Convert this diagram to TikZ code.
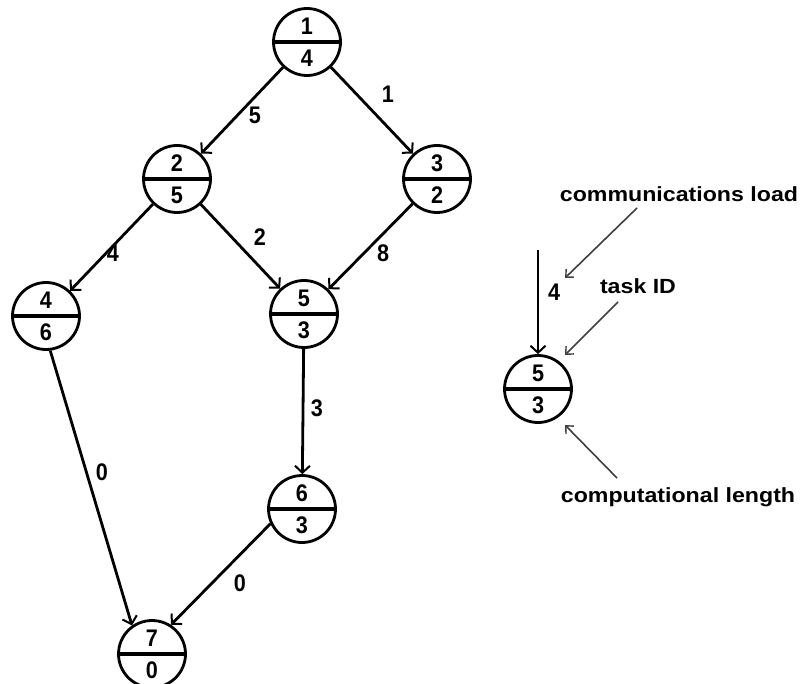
\documentclass[tikz,border=0pt]{standalone}
\usepackage{fontspec}
\usepackage{graphicx}
\setmainfont{Liberation Sans}
\usetikzlibrary{arrows.meta}
\tikzset{
  task/.style={circle, draw, line width=2.8pt, minimum size=67pt, inner sep=0pt},
  divider/.style={line width=3.2pt},
  num/.style={font=\bfseries\fontsize{24}{24}\selectfont, inner sep=0pt},
  edge/.style={line width=2.8pt, -{Straight Barb[length=7pt,width=15pt,line width=2pt]}},
  elabel/.style={font=\bfseries\fontsize{24}{24}\selectfont, inner sep=0pt},
  note/.style={font=\bfseries\fontsize{20.5}{20.5}\selectfont, inner sep=0pt},
  notearrow/.style={line width=1.6pt, draw=black!75, -{Straight Barb[length=6pt,width=11pt,line width=1.4pt]}}
}
\newcommand\tasknode[4]{%
  \node[task] (#1) at (#2) {};
  \draw[divider] (#1.west) -- (#1.east);
  \node[num] (#1top) at ([yshift=16pt]#1.center) {\scalebox{0.9}[1]{#3}};
  \node[num] (#1bot) at ([yshift=-16pt]#1.center) {\scalebox{0.9}[1]{#4}};
}
\begin{document}
\begin{tikzpicture}[x=1pt,y=-1pt]
\path[use as bounding box, fill=white] (0,0) rectangle (802,684);
\tasknode{n1}{307,42}{1}{4}
\tasknode{n2}{177,179}{2}{5}
\tasknode{n3}{437,179}{3}{2}
\tasknode{n4}{46,316}{4}{6}
\tasknode{n5}{304,314}{5}{3}
\tasknode{n6}{302,509}{6}{3}
\tasknode{n7}{152,654}{7}{0}
\tasknode{nl}{538,389}{5}{3}

\draw[edge] (n1) -- (n2);
\draw[edge] (n1) -- (n3);
\draw[edge] (n2) -- (n4);
\draw[edge] (n2) -- (n5);
\draw[edge] (n3) -- (n5);
\draw[edge] (n5) -- (n6);
\draw[edge] (n4.-83) -- (n7.125);
\draw[edge] (n6.-155) -- (n7.57);

\node[elabel] (l12) at (255,115) {\scalebox{0.9}[1]{5}};
\node[elabel] (l13) at (388,94) {\scalebox{0.9}[1]{1}};
\node[elabel] (l24) at (113,253) {\scalebox{0.9}[1]{4}};
\node[elabel] (l25) at (260,237) {\scalebox{0.9}[1]{2}};
\node[elabel] (l35) at (383,253) {\scalebox{0.9}[1]{8}};
\node[elabel] (l56) at (317,408) {\scalebox{0.9}[1]{3}};
\node[elabel] (l47) at (102,472) {\scalebox{0.9}[1]{0}};
\node[elabel] (l67) at (240,583) {\scalebox{0.9}[1]{0}};

% legend
\coordinate (ls) at (538,250);
\draw[edge] (ls) -- (nl);
\node[elabel] (ll) at (554,292) {\scalebox{0.9}[1]{4}};

\node[note] (comm) at (679,194) {\scalebox{1.13}[1]{communications load}};
\node[note] (tid) at (638,286) {\scalebox{1.13}[1]{task ID}};
\node[note] (comp) at (678,497) {\scalebox{1.13}[1]{computational length}};

\coordinate (c1s) at (637,208);
\coordinate (c1e) at (565,278);
\coordinate (c2s) at (618,302);
\coordinate (c2e) at (565,355);
\coordinate (c3s) at (617,478);
\coordinate (c3e) at (565,425);
\draw[notearrow] (c1s) -- (c1e);
\draw[notearrow] (c2s) -- (c2e);
\draw[notearrow] (c3s) -- (c3e);
\end{tikzpicture}
\end{document}
